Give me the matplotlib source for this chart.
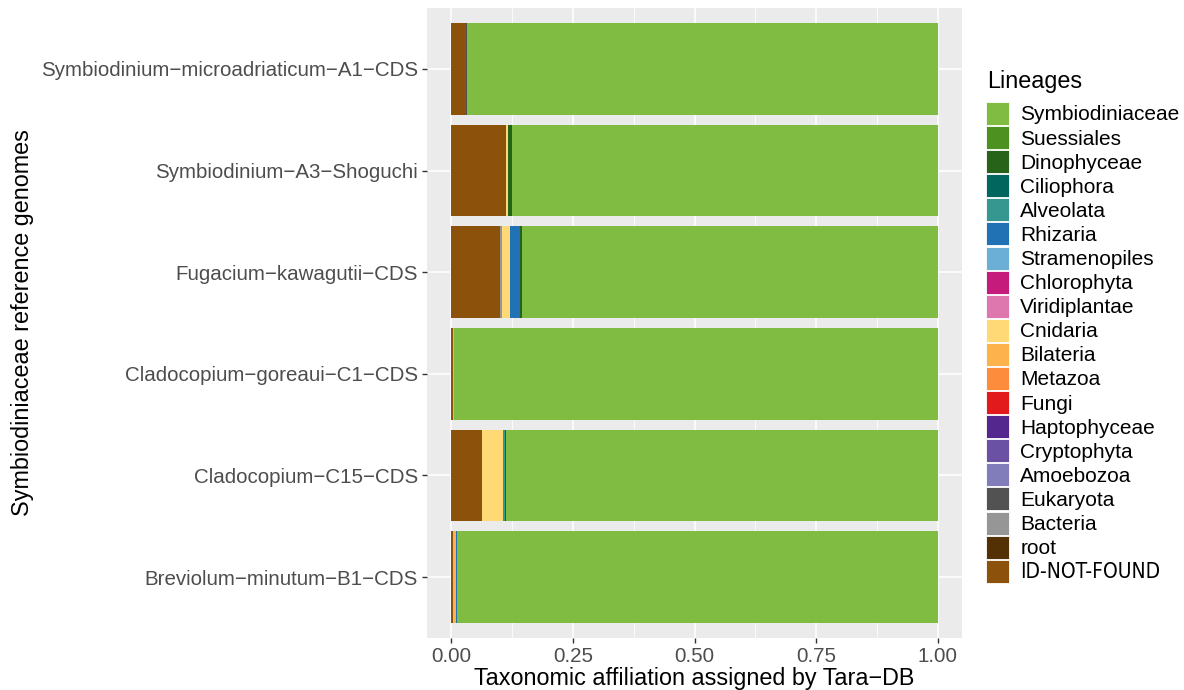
import matplotlib
matplotlib.use("Agg")
import matplotlib.pyplot as plt
from matplotlib.patches import Patch
import numpy as np

plt.rcParams['font.family'] = ['Liberation Sans', 'DejaVu Sans']

genomes = ["Symbiodinium\u2212microadriaticum\u2212A1\u2212CDS",
           "Symbiodinium\u2212A3\u2212Shoguchi",
           "Fugacium\u2212kawagutii\u2212CDS",
           "Cladocopium\u2212goreaui\u2212C1\u2212CDS",
           "Cladocopium\u2212C15\u2212CDS",
           "Breviolum\u2212minutum\u2212B1\u2212CDS"]

lineages = ["Symbiodiniaceae", "Suessiales", "Dinophyceae", "Ciliophora", "Alveolata",
            "Rhizaria", "Stramenopiles", "Chlorophyta", "Viridiplantae", "Cnidaria",
            "Bilateria", "Metazoa", "Fungi", "Haptophyceae", "Cryptophyta", "Amoebozoa",
            "Eukaryota", "Bacteria", "root", "ID-NOT-FOUND"]

colors = ["#7FBC41", "#4D9221", "#276419", "#01665E", "#35978F",
          "#2171B5", "#6BAED6", "#C51B7D", "#DE77AE", "#FED976",
          "#FEB24C", "#FD8D3C", "#E31A1C", "#54278F", "#6A51A3", "#807DBA",
          "#525252", "#969696", "#543005", "#8C510A"]

# fractions per genome (order as in `genomes`)
symbiodiniaceae = [0.967, 0.875, 0.855, 0.995, 0.888, 0.988]
suessiales      = [0.0, 0.0, 0.0, 0.0, 0.0, 0.0]
dinophyceae     = [0.0, 0.009, 0.004, 0.0, 0.002, 0.0]
ciliophora      = [0.0, 0.0, 0.0, 0.0, 0.0, 0.0]
alveolata       = [0.0, 0.0, 0.0, 0.0, 0.003, 0.0]
rhizaria        = [0.0, 0.0, 0.020, 0.0, 0.0, 0.003]
stramenopiles   = [0.0, 0.0, 0.0, 0.0, 0.0, 0.0]
chlorophyta     = [0.0, 0.0, 0.0, 0.0, 0.0, 0.0]
viridiplantae   = [0.0, 0.0, 0.0, 0.0, 0.0, 0.0]
cnidaria        = [0.0, 0.003, 0.017, 0.0, 0.044, 0.0]
bilateria       = [0.0, 0.0, 0.0, 0.002, 0.0, 0.005]
metazoa         = [0.0, 0.0, 0.0, 0.0, 0.0, 0.0]
fungi           = [0.0, 0.0, 0.0, 0.0, 0.0, 0.0]
haptophyceae    = [0.0, 0.0, 0.0, 0.0, 0.0, 0.0]
cryptophyta     = [0.0, 0.0, 0.0, 0.0, 0.0, 0.0]
amoebozoa       = [0.0, 0.0, 0.0, 0.0, 0.0, 0.0]
eukaryota       = [0.003, 0.0, 0.0, 0.0, 0.0, 0.0]
bacteria        = [0.0, 0.0, 0.003, 0.0, 0.0, 0.0]
root            = [0.0, 0.0, 0.0, 0.0, 0.0, 0.0]
id_not_found    = [0.030, 0.113, 0.101, 0.003, 0.063, 0.004]

values = [symbiodiniaceae, suessiales, dinophyceae, ciliophora, alveolata,
          rhizaria, stramenopiles, chlorophyta, viridiplantae, cnidaria,
          bilateria, metazoa, fungi, haptophyceae, cryptophyta, amoebozoa,
          eukaryota, bacteria, root, id_not_found]

fig = plt.figure(figsize=(11.84, 6.90), dpi=100)
ax = fig.add_axes([427/1184, 1-638/690, (962-427)/1184, (638-8)/690])
ax.set_facecolor("#EBEBEB")

n = len(genomes)
ypos = np.arange(n)[::-1] + 1  # top genome at highest y
left = np.zeros(n)
# stack from the last lineage (ID-NOT-FOUND) at 0 to Symbiodiniaceae at the end
for name, col, vals in reversed(list(zip(lineages, colors, values))):
    v = np.array(vals)
    ax.barh(ypos, v, left=left, height=0.9, color=col, edgecolor="none", zorder=3)
    left += v

ax.set_xlim(-0.05, 1.05)
ax.set_ylim(0.4, n + 0.6)
ax.set_xticks([0, 0.25, 0.5, 0.75, 1.0])
ax.set_xticklabels(["0.00", "0.25", "0.50", "0.75", "1.00"])
ax.set_xticks([0.125, 0.375, 0.625, 0.875], minor=True)
ax.set_yticks(ypos)
ax.set_yticklabels(genomes)
ax.grid(True, which="major", color="white", linewidth=1.1, zorder=1)
ax.grid(True, which="minor", axis="x", color="white", linewidth=0.55, zorder=1)
ax.tick_params(axis="both", which="major", length=3.5, width=1.0, color="#333333",
               labelcolor="#4D4D4D", labelsize=14.8, pad=3)
ax.tick_params(axis="both", which="minor", length=0)
for s in ax.spines.values():
    s.set_visible(False)
ax.set_axisbelow(True)

ax.set_xlabel("Taxonomic affiliation assigned by Tara\u2212DB", fontsize=16.8, labelpad=1)
ax.set_ylabel("Symbiodiniaceae reference genomes", fontsize=16.8, labelpad=5)

fig.text(987/1184, 1-88/690, "Lineages", fontsize=16.8, ha="left", va="baseline")

handles = [Patch(facecolor=c, edgecolor="white", linewidth=0.6) for c in colors]
leg = fig.legend(handles, lineages, loc="upper left", bbox_to_anchor=(986/1184, 1-102/690),
                 frameon=False, fontsize=15,
                 handlelength=1.1, handleheight=1.325, labelspacing=0.05,
                 handletextpad=0.55, borderaxespad=0, borderpad=0)
for t in leg.get_texts():
    if t.get_text() == "ID-NOT-FOUND":
        t.set_family(["DejaVu Sans"])
        t.set_fontstretch("condensed")

fig.savefig("out.png", dpi=100)
